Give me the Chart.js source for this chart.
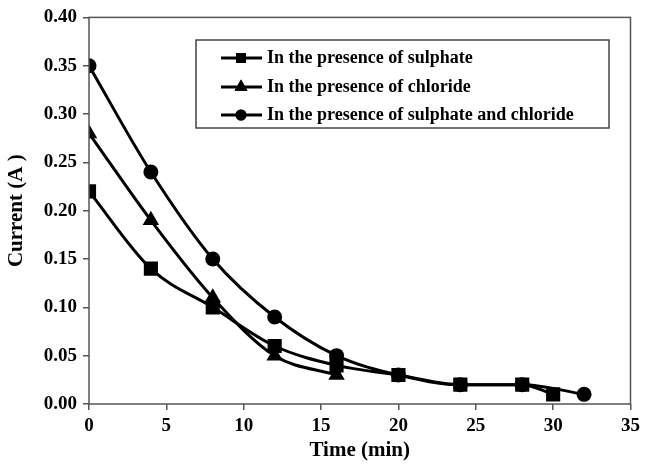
<!DOCTYPE html>
<html>
<head>
<meta charset="utf-8">
<script src="https://cdn.jsdelivr.net/npm/chart.js@4"></script>
<style>
  body { margin: 0; background: #fff; }
  #wrap { width: 645px; height: 467px; }
</style>
</head>
<body>
<div id="wrap"><canvas id="myChart" width="645" height="467"></canvas></div>
<script>
// data
const sulphateTime = [0, 4, 8, 12, 16, 20, 24, 28, 30];
const sulphateCurrent = [0.22, 0.14, 0.10, 0.06, 0.04, 0.03, 0.02, 0.02, 0.01];
const chlorideTime = [0, 4, 8, 12, 16];
const chlorideCurrent = [0.28, 0.19, 0.11, 0.05, 0.03];
const bothTime = [0, 4, 8, 12, 16, 20, 24, 28, 32];
const bothCurrent = [0.35, 0.24, 0.15, 0.09, 0.05, 0.03, 0.02, 0.02, 0.01];
const seriesNames = [
    'In the presence of sulphate',
    'In the presence of chloride',
    'In the presence of sulphate and chloride'
];

function toPoints(xs, ys) {
    return xs.map((x, i) => ({ x: x, y: ys[i] }));
}

const font = 'Liberation Serif';

function makeSet(label, xs, ys, style, radius) {
    return {
        label: label,
        data: toPoints(xs, ys),
        borderColor: '#000',
        backgroundColor: '#000',
        borderWidth: 3,
        cubicInterpolationMode: 'monotone',
        pointStyle: style,
        pointRadius: radius,
        pointHoverRadius: radius,
        pointBorderWidth: 0
    };
}

// frame around the plot + legend box
const framePlugin = {
    id: 'frame',
    afterDraw(chart) {
        const c = chart.ctx;
        const a = chart.chartArea;
        c.save();
        c.strokeStyle = '#555';
        c.lineWidth = 1.5;
        c.strokeRect(a.left, a.top, a.right - a.left, a.bottom - a.top);

        // legend
        c.strokeStyle = '#444';
        c.lineWidth = 1.5;
        c.strokeRect(196, 40, 413, 88);
        const rows = [58, 87, 115];
        const styles = ['rect', 'triangle', 'circle'];
        const radii = [7, 7.5, 5.5];
        rows.forEach((y, i) => {
            c.strokeStyle = '#000';
            c.lineWidth = 3;
            c.beginPath();
            c.moveTo(221, y);
            c.lineTo(262, y);
            c.stroke();
            Chart.helpers.drawPoint(c, { pointStyle: styles[i], radius: radii[i], borderWidth: 0 }, 241, y);
            c.fillStyle = '#000';
            c.fill();
            c.font = 'bold 18px "' + font + '"';
            c.textBaseline = 'middle';
            c.textAlign = 'left';
            c.fillText(seriesNames[i], 267, y);
        });
        c.restore();
    }
};

const ctx = document.getElementById('myChart').getContext('2d');
const myChart = new Chart(ctx, {
    type: 'line',
    data: {
        datasets: [
            makeSet(seriesNames[0], sulphateTime, sulphateCurrent, 'rect', 10),
            makeSet(seriesNames[1], chlorideTime, chlorideCurrent, 'triangle', 9.5),
            makeSet(seriesNames[2], bothTime, bothCurrent, 'circle', 7.5)
        ]
    },
    options: {
        responsive: false,
        animation: false,
        layout: { padding: { top: 16, right: 10, left: 0, bottom: 0 } },
        plugins: {
            legend: { display: false },
            tooltip: { enabled: false }
        },
        scales: {
            x: {
                type: 'linear',
                min: 0,
                max: 35,
                ticks: {
                    stepSize: 5,
                    color: '#000',
                    font: { family: font, size: 19, weight: 'bold' },
                    padding: 5
                },
                grid: {
                    drawOnChartArea: false,
                    color: '#555',
                    tickLength: 6,
                    lineWidth: 1.5
                },
                border: { display: false },
                title: {
                    display: true,
                    text: 'Time (min)',
                    color: '#000',
                    font: { family: font, size: 21, weight: 'bold' },
                    padding: { top: 0 }
                },
                afterFit(scale) { scale.height = 63; }
            },
            y: {
                min: 0,
                max: 0.4,
                ticks: {
                    stepSize: 0.05,
                    color: '#000',
                    font: { family: font, size: 19, weight: 'bold' },
                    padding: 6,
                    callback: v => v.toFixed(2)
                },
                grid: {
                    drawOnChartArea: false,
                    color: '#555',
                    tickLength: 6,
                    lineWidth: 1.5
                },
                border: { display: false },
                title: {
                    display: true,
                    text: 'Current (A )',
                    color: '#000',
                    font: { family: font, size: 21, weight: 'bold' },
                    padding: { bottom: 2 }
                },
                afterFit(scale) { scale.width = 89; }
            }
        }
    },
    plugins: [framePlugin]
});
</script>
</body>
</html>
